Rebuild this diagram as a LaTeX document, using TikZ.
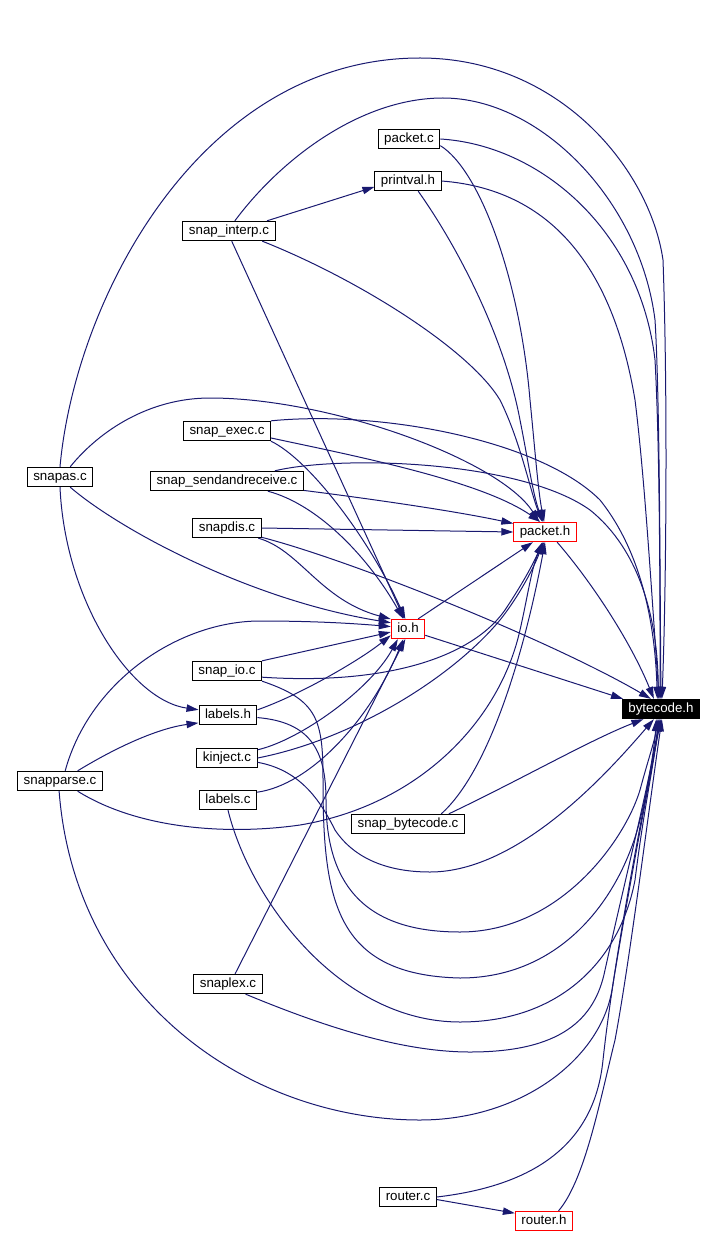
\documentclass[tikz,border=0pt]{standalone}
\usepackage{fontspec}
\setmainfont{Liberation Sans}
\usepackage{tikz}
\usetikzlibrary{arrows.meta}
\definecolor{edgeblue}{RGB}{25,25,112}

\begin{document}
\begin{tikzpicture}[x=0.75pt, y=-0.75pt, font=\fontsize{10}{12}\selectfont,
  file/.style={draw=black, line width=0.75pt, fill=white, inner xsep=4.5pt, inner ysep=0pt,
    minimum height=14.5pt, text height=7.4pt, text depth=2pt},
  trunc/.style={file, draw=red},
  mainfile/.style={file, fill=black, text=white},
  incl/.style={draw=edgeblue, line width=0.75pt, -{Triangle[length=9pt,width=5.5pt]}}]
\useasboundingbox (0,0) rectangle (716,1237);

\node[file] (packetc) at (409,139) {packet.c};
\node[file] (printvalh) at (408,181) {printval.h};
\node[file] (snapinterp) at (229,231) {snap\_interp.c};
\node[file] (snapexec) at (227,431) {snap\_exec.c};
\node[file] (snapas) at (60,477) {snapas.c};
\node[file] (snapsar) at (227,481) {snap\_sendandreceive.c};
\node[file] (snapdis) at (227,528) {snapdis.c};
\node[trunc] (packeth) at (545,532) {packet.h};
\node[trunc] (ioh) at (408,629) {io.h};
\node[file] (snapio) at (227,671) {snap\_io.c};
\node[file] (labelsh) at (228,715) {labels.h};
\node[file] (kinject) at (227,758) {kinject.c};
\node[file] (snapparse) at (60,781) {snapparse.c};
\node[file] (labelsc) at (228,800) {labels.c};
\node[file] (snapbc) at (408,824) {snap\_bytecode.c};
\node[file] (snaplex) at (228,984) {snaplex.c};
\node[file] (routerc) at (408,1197) {router.c};
\node[trunc] (routerh) at (544,1221) {router.h};
\node[mainfile] (bytecodeh) at (661,709) {bytecode.h};

\draw[incl] (packetc.-12) .. controls (480,170) and (520,280) .. (530,400) .. controls (535,450) and (538,490) .. (packeth.95);
\draw[incl] (packetc.east) .. controls (540,145) and (640,230) .. (655,360) .. controls (660,450) and (660,600) .. (bytecodeh.95);
\draw[incl] (printvalh.-45) .. controls (460,250) and (505,340) .. (520,420) .. controls (528,460) and (533,495) .. (packeth.100);
\draw[incl] (printvalh.east) .. controls (560,190) and (615,280) .. (635,400) .. controls (645,480) and (652,600) .. (bytecodeh.100);
\draw[incl] (snapinterp.15) -- (printvalh.190);
\draw[incl] (snapinterp.-75) -- (ioh.110);
\draw[incl] (snapinterp.-17) .. controls (360,280) and (470,350) .. (500,400) .. controls (520,440) and (530,490) .. (packeth.105);
\draw[incl] (snapinterp.60) .. controls (280,160) and (360,98) .. (443,98) .. controls (540,98) and (640,200) .. (655,320) .. controls (660,400) and (660,600) .. (bytecodeh.90);
\draw[incl] (snapas.north) .. controls (75,300) and (200,58) .. (420,58) .. controls (560,58) and (650,170) .. (663,260) .. controls (668,400) and (666,600) .. (bytecodeh.85);
\draw[incl] (snapas.45) .. controls (100,430) and (150,398) .. (210,398) .. controls (330,398) and (500,460) .. (packeth.120);
\draw[incl] (snapas.south) .. controls (65,600) and (130,700) .. (labelsh.170);
\draw[incl] (snapas.-45) .. controls (120,530) and (250,600) .. (ioh.160);
\draw[incl] (snapexec.south east) .. controls (310,460) and (370,540) .. (ioh.105);
\draw[incl] (snapexec.-9) .. controls (350,455) and (480,480) .. (packeth.115);
\draw[incl] (snapexec.north east) .. controls (380,410) and (540,440) .. (600,500) .. controls (640,550) and (655,620) .. (bytecodeh.110);
\draw[incl] (snapsar.12) .. controls (340,455) and (520,460) .. (590,510) .. controls (640,550) and (658,620) .. (bytecodeh.105);
\draw[incl] (snapsar.-7) .. controls (380,500) and (460,512) .. (packeth.165);
\draw[incl] (snapsar.-14) .. controls (320,505) and (370,560) .. (ioh.115);
\draw[incl] (snapdis.east) -- (packeth.west);
\draw[incl] (snapdis.-15) .. controls (350,560) and (550,640) .. (bytecodeh.135);
\draw[incl] (snapdis.-18) .. controls (300,550) and (320,600) .. (ioh.150);
\draw[incl] (packeth.-40) .. controls (590,580) and (630,640) .. (bytecodeh.125);
\draw[incl] (ioh.45) -- (packeth.-140);
\draw[incl] (ioh.-20) -- (bytecodeh.165);
\draw[incl] (snapio.north east) -- (ioh.190);
\draw[incl] (snapio.-10) .. controls (380,685) and (470,660) .. (505,610) .. controls (525,580) and (535,560) .. (packeth.-105);
\draw[incl] (snapio.south east) .. controls (318,700) and (323,720) .. (323,780) .. controls (323,900) and (335,975) .. (460,978) .. controls (560,978) and (620,900) .. (640,820) .. controls (650,780) and (655,740) .. (bytecodeh.-115);
\draw[incl] (labelsh.10) .. controls (300,695) and (360,660) .. (ioh.200);
\draw[incl] (labelsh.-5) .. controls (310,722) and (326,750) .. (326,800) .. controls (326,880) and (360,932) .. (460,932) .. controls (560,932) and (625,840) .. (640,790) .. controls (648,760) and (655,740) .. (bytecodeh.-110);
\draw[incl] (kinject.15) .. controls (300,740) and (370,690) .. (ioh.-135);
\draw[incl] (kinject.east) .. controls (350,740) and (450,680) .. (500,620) .. controls (520,595) and (535,565) .. (packeth.-100);
\draw[incl] (kinject.-8) .. controls (300,770) and (320,800) .. (335,830) .. controls (355,860) and (390,872) .. (430,872) .. controls (520,872) and (610,770) .. (bytecodeh.-125);
\draw[incl] (snapparse.63) .. controls (90,680) and (180,621) .. (260,621) .. controls (320,621) and (360,624) .. (ioh.172);
\draw[incl] (snapparse.30) .. controls (120,745) and (160,728) .. (labelsh.195);
\draw[incl] (snapparse.-30) .. controls (140,830) and (230,835) .. (300,825) .. controls (420,805) and (500,720) .. (520,630) .. controls (528,595) and (532,565) .. (packeth.-95);
\draw[incl] (snapparse.-95) .. controls (75,1000) and (250,1120) .. (420,1120) .. controls (520,1120) and (600,1060) .. (612,990) .. controls (630,880) and (650,780) .. (bytecodeh.-95);
\draw[incl] (labelsc.15) .. controls (310,785) and (370,720) .. (ioh.-115);
\draw[incl] (labelsc.south) .. controls (250,900) and (340,1022) .. (460,1022) .. controls (560,1022) and (620,960) .. (635,880) .. controls (645,800) and (655,760) .. (bytecodeh.-105);
\draw[incl] (snapbc.17) .. controls (490,770) and (525,650) .. (packeth.-90);
\draw[incl] (snapbc.14) .. controls (520,780) and (590,740) .. (bytecodeh.-150);
\draw[incl] (snaplex.55) -- (ioh.-105);
\draw[incl] (snaplex.-30) .. controls (320,1025) and (400,1052) .. (470,1052) .. controls (560,1052) and (595,1020) .. (605,970) .. controls (625,880) and (650,780) .. (bytecodeh.-100);
\draw[incl] (routerc.-5) -- (routerh.165);
\draw[incl] (routerc.east) .. controls (540,1185) and (595,1140) .. (603,1060) .. controls (615,950) and (645,800) .. (bytecodeh.-90);
\draw[incl] (routerh.35) .. controls (585,1180) and (600,1100) .. (615,1040) .. controls (630,960) and (650,800) .. (bytecodeh.-85);
\end{tikzpicture}
\end{document}
